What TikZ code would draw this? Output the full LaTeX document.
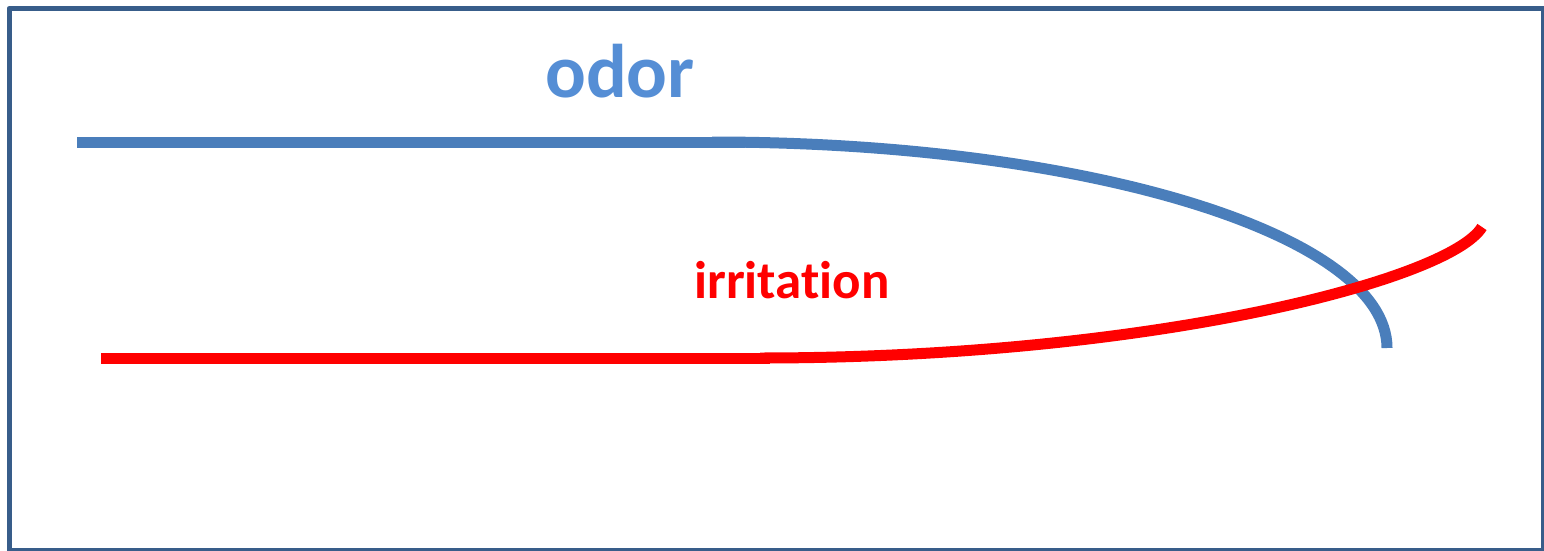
\documentclass[tikz,border=0pt]{standalone}
\usepackage{fontspec}
\setmainfont{Carlito}[Ligatures=NoCommon]
\definecolor{framecol}{RGB}{56,93,138}
\definecolor{odorline}{RGB}{74,126,187}
\definecolor{odortext}{RGB}{85,142,213}
\begin{document}
\begin{tikzpicture}[x=1pt,y=-1pt,line join=round]
  \useasboundingbox (0,0) rectangle (1544,551);
  % Frame
  \draw[framecol,line width=5pt] (9,8.5) rectangle (1543,550);
  % Odor - flat, then bending down
  \draw[odorline,line width=11pt] (77,142) -- (745,142);
  \draw[odorline,line width=11pt] (712,142) arc[start angle=270,end angle=360,x radius=675,y radius=206];
  \node[odortext,font=\fontsize{76}{80}\selectfont\bfseries,anchor=base] (odor) at (620,97) {odor};
  % Irritation - flat, then bending up
  \draw[red,line width=11pt] (101,358) -- (770,358);
  \draw[red,line width=11pt] (760,358) .. controls (1150,358) and (1450,280) .. (1482,227);
  \node[red,font=\fontsize{53}{60}\selectfont\bfseries,anchor=base] (irritation) at (792,298) {irritation};
\end{tikzpicture}
\end{document}
